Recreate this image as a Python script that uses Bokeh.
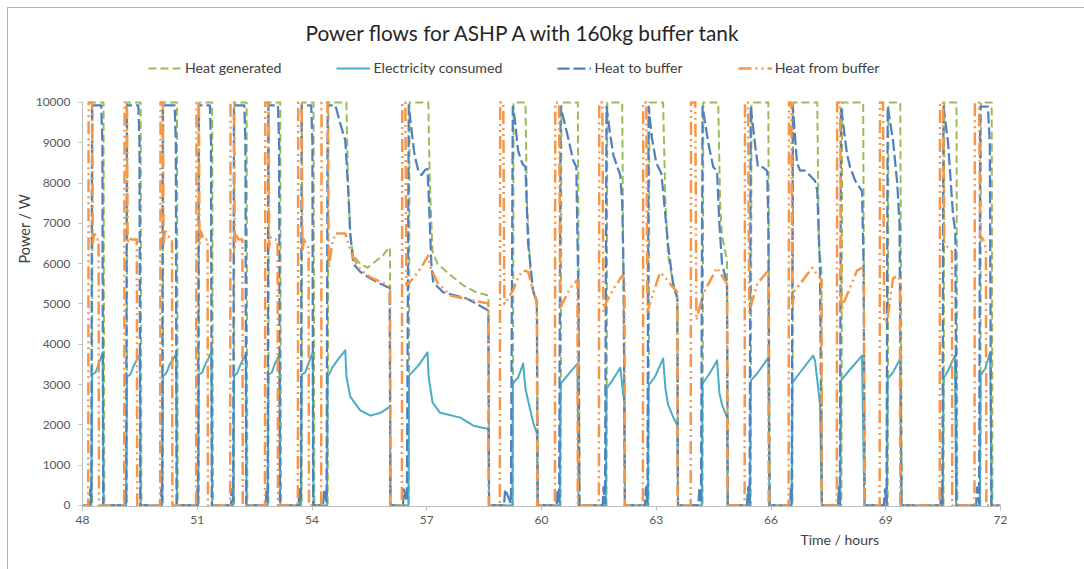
from bokeh.plotting import figure
from bokeh.models import Range1d, FixedTicker, Legend, LegendItem, Title
from bokeh.embed import file_html
from bokeh.resources import INLINE

TITLE = "Power flows for ASHP A with 160kg buffer tank"
SERIES = ["Heat generated", "Electricity consumed", "Heat to buffer", "Heat from buffer"]
X_LABEL = "Time / hours"
Y_LABEL = "Power / W"
X_TICKS = [48, 51, 54, 57, 60, 63, 66, 69, 72]
Y_TICKS = [0, 1000, 2000, 3000, 4000, 5000, 6000, 7000, 8000, 9000, 10000]

# (time / hours, power / W)
heat_generated = [
    (48.00, 0),
    (48.25, 0), (48.26, 10000), (48.55, 10000), (48.57, 0),
    (49.16, 0), (49.17, 10000), (49.52, 10000), (49.54, 0),
    (50.10, 0), (50.11, 10000), (50.47, 10000), (50.49, 0),
    (51.04, 0), (51.05, 10000), (51.39, 10000), (51.41, 0),
    (51.96, 0), (51.97, 10000), (52.29, 10000), (52.31, 0),
    (52.86, 0), (52.87, 10000), (53.17, 10000), (53.19, 0),
    (53.73, 0), (53.74, 10000), (54.04, 10000), (54.06, 0),
    (54.41, 0), (54.43, 10000), (54.90, 10000), (54.94, 8000), (55.00, 6700), (55.08, 6200),
    (55.26, 6000), (55.45, 5900), (55.65, 6050), (55.85, 6200), (56.00, 6380), (56.04, 6400), (56.05, 0),
    (56.53, 0), (56.55, 10000), (57.04, 10000), (57.08, 8000), (57.15, 6300), (57.28, 6000),
    (57.54, 5780), (57.96, 5460), (58.27, 5300), (58.61, 5210), (58.63, 0),
    (59.25, 0), (59.27, 10000), (59.58, 10000), (59.62, 7500), (59.71, 5830), (59.78, 5300), (59.88, 5010), (59.90, 0),
    (60.50, 0), (60.52, 10000), (60.95, 10000), (61.00, 0),
    (61.70, 0), (61.72, 10000), (62.11, 10000), (62.18, 0),
    (62.80, 0), (62.82, 10000), (63.18, 10000), (63.24, 7500), (63.31, 6200), (63.44, 5530), (63.55, 5200), (63.57, 0),
    (64.21, 0), (64.23, 10000), (64.62, 10000), (64.67, 7500), (64.72, 6700), (64.85, 6080), (64.87, 0),
    (65.47, 0), (65.49, 10000), (65.93, 10000), (65.97, 0),
    (66.56, 0), (66.58, 10000), (67.21, 10000), (67.25, 6500), (67.32, 5800), (67.33, 0),
    (67.84, 0), (67.86, 10000), (68.41, 10000), (68.45, 0),
    (69.05, 0), (69.07, 10000), (69.38, 10000), (69.42, 0),
    (70.51, 0), (70.53, 10000), (70.85, 10000), (70.87, 0),
    (71.47, 0), (71.49, 10000), (71.77, 10000), (71.79, 0),
    (72.00, 0),
]

electricity_consumed = [
    (48.00, 0),
    (48.23, 0), (48.25, 3250), (48.34, 3300), (48.42, 3500), (48.53, 3800), (48.55, 0),
    (49.14, 0), (49.16, 3200), (49.25, 3250), (49.33, 3450), (49.50, 3750), (49.52, 0),
    (50.08, 0), (50.10, 3200), (50.20, 3300), (50.28, 3500), (50.45, 3750), (50.47, 0),
    (51.02, 0), (51.04, 3250), (51.13, 3300), (51.21, 3500), (51.37, 3800), (51.39, 0),
    (51.94, 0), (51.96, 3200), (52.05, 3300), (52.13, 3500), (52.27, 3750), (52.29, 0),
    (52.84, 0), (52.86, 3250), (52.95, 3300), (53.02, 3500), (53.15, 3750), (53.17, 0),
    (53.71, 0), (53.73, 3250), (53.82, 3300), (53.90, 3500), (54.02, 3800), (54.04, 0),
    (54.39, 0), (54.41, 3180), (54.53, 3420), (54.70, 3650), (54.87, 3850), (54.90, 3200), (55.00, 2700),
    (55.26, 2360), (55.53, 2230), (55.79, 2300), (56.00, 2430), (56.04, 2450), (56.05, 0),
    (56.52, 0), (56.54, 3230), (56.78, 3470), (57.02, 3800), (57.05, 3200), (57.15, 2560), (57.35, 2300),
    (57.88, 2180), (58.22, 1980), (58.61, 1900), (58.63, 0),
    (59.24, 0), (59.25, 3020), (59.39, 3180), (59.52, 3520), (59.58, 2900), (59.71, 2350), (59.80, 2000), (59.88, 1790), (59.90, 0),
    (60.48, 0), (60.50, 3020), (60.65, 3200), (60.94, 3520), (60.97, 0),
    (61.68, 0), (61.70, 2900), (61.85, 3100), (62.06, 3420), (62.14, 2730), (62.17, 2600), (62.18, 0),
    (62.78, 0), (62.80, 2980), (62.97, 3200), (63.18, 3650), (63.24, 2900), (63.31, 2500), (63.44, 2200), (63.55, 1990), (63.57, 0),
    (64.19, 0), (64.21, 3020), (64.41, 3300), (64.59, 3600), (64.65, 2800), (64.72, 2500), (64.85, 2180), (64.87, 0),
    (65.45, 0), (65.47, 3100), (65.66, 3300), (65.93, 3670), (65.96, 0),
    (66.54, 0), (66.56, 3050), (66.76, 3300), (67.10, 3720), (67.15, 3600), (67.28, 2530), (67.33, 0),
    (67.81, 0), (67.83, 3100), (68.00, 3300), (68.38, 3720), (68.44, 0),
    (69.03, 0), (69.05, 3150), (69.19, 3300), (69.38, 3650), (69.41, 0),
    (70.49, 0), (70.51, 3150), (70.63, 3350), (70.81, 3720), (70.84, 0),
    (71.46, 0), (71.48, 3230), (71.60, 3400), (71.73, 3800), (71.77, 0),
    (72.00, 0),
]

heat_to_buffer = [
    (48.00, 0),
    (48.18, 0), (48.20, 400), (48.23, 100), (48.25, 9930), (48.49, 9930), (48.52, 9000), (48.54, 0),
    (49.11, 0), (49.12, 400), (49.14, 100), (49.16, 9930), (49.46, 9930), (49.49, 9000), (49.51, 0),
    (50.05, 0), (50.06, 400), (50.08, 100), (50.10, 9930), (50.41, 9930), (50.44, 9000), (50.46, 0),
    (50.99, 0), (51.00, 400), (51.02, 100), (51.04, 9930), (51.33, 9930), (51.36, 9000), (51.38, 0),
    (51.88, 0), (51.90, 400), (51.94, 100), (51.96, 9930), (52.23, 9930), (52.26, 9000), (52.28, 0),
    (52.79, 0), (52.81, 400), (52.84, 100), (52.86, 9930), (53.11, 9930), (53.14, 9000), (53.16, 0),
    (53.65, 0), (53.67, 400), (53.71, 100), (53.73, 9930), (53.98, 9930), (54.01, 9000), (54.03, 0),
    (54.29, 0), (54.32, 400), (54.38, 100), (54.41, 9930), (54.61, 9930), (54.74, 9480), (54.87, 9060),
    (54.95, 7800), (55.00, 6750), (55.08, 6000), (55.26, 5800), (55.53, 5630), (55.79, 5500), (56.00, 5410), (56.03, 5400), (56.05, 0),
    (56.38, 0), (56.40, 400), (56.48, 100), (56.53, 9930), (56.58, 9500), (56.68, 8700), (56.78, 8300), (56.86, 8200),
    (56.96, 8330), (57.02, 8350), (57.06, 7500), (57.12, 6000), (57.17, 5530), (57.43, 5290), (58.06, 5130),
    (58.40, 4950), (58.61, 4840), (58.63, 0),
    (59.02, 0), (59.05, 400), (59.20, 50), (59.25, 9900), (59.30, 9600), (59.39, 8800), (59.50, 8480), (59.58, 8400),
    (59.65, 6500), (59.78, 5340), (59.88, 5010), (59.90, 0),
    (60.40, 0), (60.42, 400), (60.46, 50), (60.50, 9900), (60.67, 9230), (60.83, 8560), (60.91, 8400), (60.96, 5500), (60.99, 0),
    (61.60, 0), (61.62, 450), (61.66, 50), (61.70, 9900), (61.78, 9300), (61.88, 8690), (62.06, 8190), (62.11, 7500), (62.15, 5530), (62.18, 0),
    (62.70, 0), (62.73, 450), (62.77, 50), (62.80, 9900), (62.89, 9100), (63.00, 8500), (63.13, 8250), (63.18, 7800),
    (63.31, 6450), (63.44, 5500), (63.55, 5130), (63.57, 0),
    (64.10, 0), (64.13, 450), (64.17, 50), (64.21, 9900), (64.36, 9000), (64.49, 8400), (64.59, 8300), (64.65, 7000),
    (64.72, 6000), (64.85, 5500), (64.87, 0),
    (65.37, 0), (65.40, 450), (65.44, 50), (65.47, 9900), (65.59, 8900), (65.66, 8400), (65.79, 8390), (65.90, 8300), (65.93, 7000), (65.96, 0),
    (66.50, 0), (66.52, 400), (66.54, 50), (66.57, 9900), (66.68, 8500), (66.76, 8310), (66.89, 8310), (67.15, 8060),
    (67.21, 7800), (67.28, 5900), (67.33, 0),
    (67.75, 0), (67.77, 450), (67.80, 50), (67.83, 9900), (67.99, 8700), (68.07, 8390), (68.20, 8060), (68.38, 7800), (68.42, 6000), (68.45, 0),
    (68.95, 0), (68.98, 400), (69.02, 50), (69.05, 9900), (69.19, 9060), (69.30, 8000), (69.36, 7000), (69.41, 0),
    (70.43, 0), (70.45, 400), (70.48, 50), (70.51, 9900), (70.63, 9000), (70.76, 7190), (70.82, 6800), (70.85, 0),
    (71.36, 0), (71.39, 450), (71.44, 50), (71.47, 9900), (71.67, 9900), (71.72, 9000), (71.76, 0),
    (72.00, 0),
]

heat_from_buffer = [
    (48.00, 0),
    (48.15, 0), (48.16, 10000), (48.25, 10000), (48.27, 6500), (48.31, 6800), (48.36, 6600), (48.42, 6600), (48.43, 0),
    (49.09, 0), (49.10, 10000), (49.16, 10000), (49.18, 6500), (49.22, 6650), (49.28, 6600), (49.42, 6600), (49.43, 0),
    (50.03, 0), (50.04, 10000), (50.10, 10000), (50.12, 6500), (50.16, 6850), (50.22, 6700), (50.34, 6600), (50.35, 0),
    (50.97, 0), (50.98, 10000), (51.04, 10000), (51.06, 6500), (51.10, 6800), (51.16, 6600), (51.27, 6600), (51.28, 0),
    (51.86, 0), (51.87, 10000), (51.96, 10000), (51.98, 6400), (52.02, 6700), (52.08, 6600), (52.18, 6600), (52.19, 0),
    (52.77, 0), (52.78, 10000), (52.86, 10000), (52.88, 6400), (52.92, 6650), (52.98, 6600), (53.10, 6600), (53.11, 0),
    (53.63, 0), (53.64, 10000), (53.73, 10000), (53.75, 6300), (53.79, 6600), (53.85, 6450), (53.91, 6400), (53.92, 0),
    (54.24, 0), (54.25, 10000), (54.41, 10000), (54.44, 5900), (54.53, 6500), (54.61, 6750), (54.87, 6750), (54.95, 6500),
    (55.08, 6150), (55.26, 5850), (55.53, 5660), (55.79, 5550), (56.00, 5460), (56.04, 5440), (56.05, 0),
    (56.35, 0), (56.36, 10000), (56.44, 10000), (56.47, 5460), (56.52, 5500), (56.78, 5800), (57.04, 6200), (57.10, 5900),
    (57.28, 5530), (57.62, 5210), (58.14, 5100), (58.61, 5010), (58.62, 0),
    (58.91, 0), (58.92, 10000), (59.00, 10000), (59.03, 5000), (59.26, 5340), (59.39, 5660), (59.52, 5830), (59.65, 5800),
    (59.78, 5340), (59.88, 5090), (59.89, 0),
    (60.35, 0), (60.36, 10000), (60.46, 10000), (60.49, 4900), (60.75, 5400), (60.94, 5600), (60.95, 0),
    (61.50, 0), (61.51, 10000), (61.59, 10000), (61.62, 4800), (61.69, 5040), (61.90, 5400), (62.11, 5700), (62.17, 5600), (62.18, 0),
    (62.65, 0), (62.66, 10000), (62.74, 10000), (62.77, 4800), (62.84, 5040), (63.10, 5780), (63.20, 5700), (63.36, 5500), (63.55, 5300), (63.56, 0),
    (63.90, 0), (63.91, 10000), (64.02, 10000), (64.05, 4600), (64.23, 5260), (64.59, 5900), (64.72, 5700), (64.85, 5500), (64.86, 0),
    (65.31, 0), (65.32, 10000), (65.40, 10000), (65.43, 4800), (65.64, 5500), (65.93, 5830), (65.94, 0),
    (66.46, 0), (66.47, 10000), (66.53, 10000), (66.56, 5000), (66.63, 5340), (67.08, 5900), (67.23, 5700), (67.32, 5600), (67.33, 0),
    (67.72, 0), (67.73, 10000), (67.81, 10000), (67.84, 4800), (67.89, 5000), (68.25, 5830), (68.38, 5900), (68.43, 5850), (68.44, 0),
    (68.84, 0), (68.85, 10000), (68.93, 10000), (68.96, 4540), (69.04, 4600), (69.19, 5630), (69.30, 5700), (69.37, 5600), (69.38, 0),
    (70.41, 0), (70.42, 10000), (70.50, 10000), (70.53, 6500), (70.63, 6400), (70.73, 6300), (70.74, 0),
    (71.32, 0), (71.33, 10000), (71.44, 10000), (71.47, 6700), (71.55, 6600), (71.62, 6370), (71.63, 0),
    (72.00, 0),
]

COLORS = ["#9BBB59", "#4BACC6", "#4F81BD", "#F79646"]
DASHES = ["8 4", "solid", "12 4", "13 4 2 4 2 4"]
WIDTHS = [2, 2, 2.25, 2.5]
FONT = "Lato"
TEXT_COLOR = "#404040"

# frame spans from just above the legend down to the x axis; y axis drawn only 0..10000
p = figure(width=1084, height=569, output_backend="svg", toolbar_location=None,
           x_range=Range1d(48, 72), y_range=Range1d(-25, 11166),
           title_location=None,
           min_border_left=82, min_border_right=84, min_border_top=55, min_border_bottom=63)
p.outline_line_color = None
p.border_fill_color = None
p.styles = {
    "background": "linear-gradient(#B4B4B4,#B4B4B4) 7px 7px / 1px 100% no-repeat, "
                  "linear-gradient(#B4B4B4,#B4B4B4) 7px 7px / 100% 1px no-repeat, #FFFFFF"
}
p.xgrid.visible = False
p.ygrid.visible = False

renderers = []
for data, c, d, w in zip([heat_generated, electricity_consumed, heat_to_buffer, heat_from_buffer],
                         COLORS, DASHES, WIDTHS):
    xs = [t for t, _ in data]
    ys = [v for _, v in data]
    r = p.line(xs, ys, line_color=c, line_width=w, line_dash=d, line_join="round")
    renderers.append(r)

p.xaxis.ticker = FixedTicker(ticks=X_TICKS)
p.yaxis.ticker = FixedTicker(ticks=Y_TICKS)
p.yaxis.bounds = (0, 10000)
for ax in p.axis:
    ax.axis_line_color = "#BFBFBF"
    ax.major_tick_line_color = "#BFBFBF"
    ax.minor_tick_line_color = None
    ax.major_tick_out = 4
    ax.major_tick_in = 0
    ax.major_label_text_font = FONT
    ax.major_label_text_font_size = "12px"
    ax.major_label_text_color = "#595959"
p.xaxis.major_label_standoff = 5
p.yaxis.major_label_standoff = 8

legend = Legend(items=[LegendItem(label=n, renderers=[r]) for n, r in zip(SERIES, renderers)],
                orientation="horizontal", location=(66, 430), padding=0, margin=0,
                spacing=55, glyph_width=34, glyph_height=16, label_height=16,
                label_standoff=3, label_text_font=FONT, label_text_font_size="14.2px",
                label_text_color=TEXT_COLOR, border_line_color=None, background_fill_alpha=0)
p.add_layout(legend)

p.add_layout(Title(text=TITLE, align="left", offset=223, standoff=22, text_font=FONT,
                   text_font_size="20.8px", text_font_style="normal", text_color="#262626"), "above")
p.add_layout(Title(text=Y_LABEL, align="left", offset=243, standoff=0, text_font=FONT,
                   text_font_size="14.5px", text_font_style="normal", text_color=TEXT_COLOR), "left")
p.add_layout(Title(text=X_LABEL, align="left", offset=718, standoff=4, text_font=FONT,
                   text_font_size="14px", text_font_style="normal", text_color=TEXT_COLOR), "below")

open("out.html", "w").write(file_html(p, INLINE))
